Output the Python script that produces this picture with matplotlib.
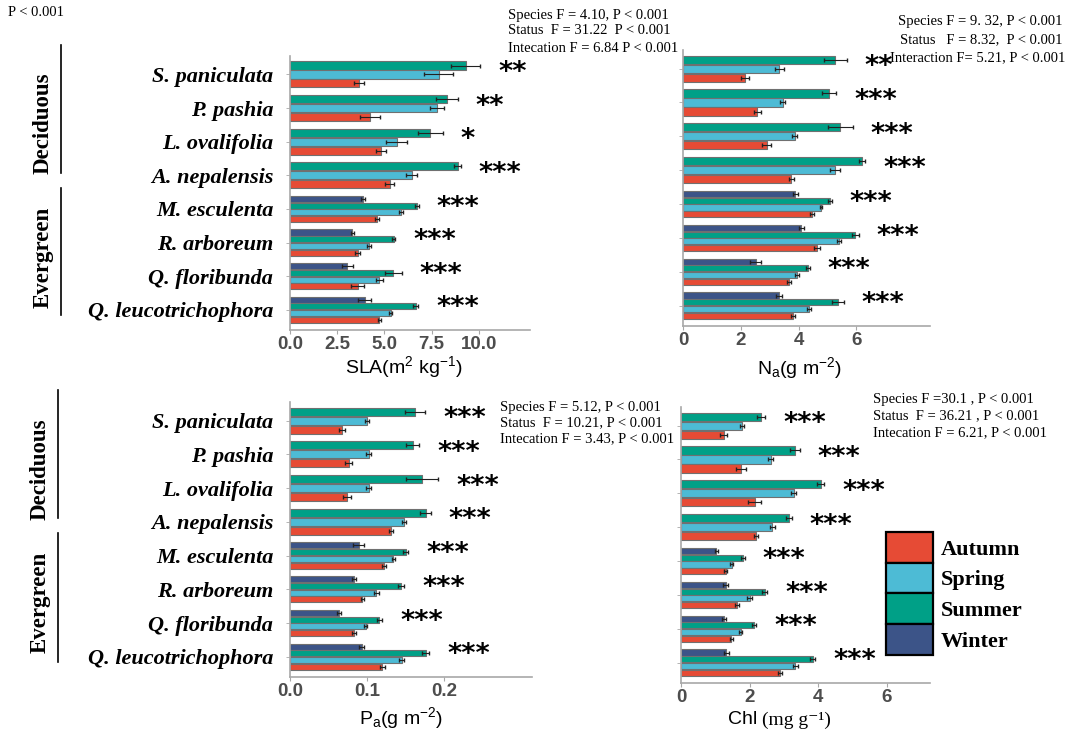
import numpy as np
import matplotlib
matplotlib.use('Agg')
import matplotlib.pyplot as plt
from matplotlib.patches import Patch
from matplotlib.lines import Line2D

plt.rcParams['font.family'] = ['Liberation Sans', 'DejaVu Sans']
plt.rcParams['mathtext.fontset'] = 'custom'
plt.rcParams['mathtext.rm'] = 'Liberation Sans'
plt.rcParams['mathtext.it'] = 'Liberation Sans:italic'

nan = np.nan

species = ['S. paniculata', 'P. pashia', 'L. ovalifolia', 'A. nepalensis',
           'M. esculenta', 'R. arboreum', 'Q. floribunda', 'Q. leucotrichophora']
seasons = ['Autumn', 'Spring', 'Summer', 'Winter']
colors = {'Autumn': '#E64B35', 'Spring': '#4DBBD5', 'Summer': '#00A087', 'Winter': '#3C5488'}

# SLA (m2 kg-1)
sla_autumn = [3.65, 4.23, 4.81, 5.27, 4.62, 3.58, 3.58, 4.73]
sla_spring = [7.87, 7.78, 5.64, 6.44, 5.87, 4.18, 4.73, 5.33]
sla_summer = [9.29, 8.29, 7.41, 8.87, 6.70, 5.50, 5.47, 6.65]
sla_winter = [nan, nan, nan, nan, 3.88, 3.30, 3.03, 3.95]
sla_autumn_se = [0.26, 0.55, 0.26, 0.24, 0.11, 0.12, 0.33, 0.08]
sla_spring_se = [0.76, 0.37, 0.56, 0.28, 0.09, 0.09, 0.20, 0.07]
sla_summer_se = [0.77, 0.58, 0.66, 0.17, 0.10, 0.08, 0.44, 0.13]
sla_winter_se = [nan, nan, nan, nan, 0.10, 0.09, 0.29, 0.35]
sla_sig = ['**', '**', '*', '***', '***', '***', '***', '***']

# Na (g m-2)
na_autumn = [2.15, 2.57, 2.90, 3.75, 4.46, 4.64, 3.66, 3.81]
na_spring = [3.34, 3.45, 3.87, 5.27, 4.78, 5.39, 3.94, 4.35]
na_summer = [5.27, 5.05, 5.44, 6.20, 5.09, 5.96, 4.32, 5.36]
na_winter = [nan, nan, nan, nan, 3.89, 4.09, 2.51, 3.32]
na_autumn_se = [0.13, 0.12, 0.16, 0.08, 0.06, 0.09, 0.07, 0.06]
na_spring_se = [0.14, 0.08, 0.09, 0.17, 0.04, 0.07, 0.06, 0.07]
na_summer_se = [0.39, 0.25, 0.43, 0.10, 0.06, 0.12, 0.06, 0.20]
na_winter_se = [nan, nan, nan, nan, 0.08, 0.09, 0.19, 0.11]
na_sig = ['**', '***', '***', '***', '***', '***', '***', '***']

# Pa (g m-2)
pa_autumn = [0.068, 0.076, 0.074, 0.131, 0.122, 0.094, 0.083, 0.120]
pa_spring = [0.100, 0.102, 0.102, 0.148, 0.134, 0.112, 0.098, 0.145]
pa_summer = [0.162, 0.159, 0.171, 0.176, 0.150, 0.144, 0.116, 0.176]
pa_winter = [nan, nan, nan, nan, 0.089, 0.083, 0.064, 0.093]
pa_autumn_se = [0.004, 0.0043, 0.005, 0.002, 0.002, 0.0024, 0.002, 0.003]
pa_spring_se = [0.003, 0.0035, 0.003, 0.0026, 0.002, 0.0035, 0.0024, 0.0035]
pa_summer_se = [0.013, 0.0087, 0.021, 0.0067, 0.0035, 0.004, 0.0037, 0.0045]
pa_winter_se = [nan, nan, nan, nan, 0.0076, 0.003, 0.0024, 0.003]
pa_sig = ['***'] * 8

# Chl (mg g-1)
chl_autumn = [1.25, 1.76, 2.15, 2.19, 1.30, 1.63, 1.47, 2.88]
chl_spring = [1.78, 2.62, 3.29, 2.66, 1.48, 2.00, 1.74, 3.34]
chl_summer = [2.34, 3.32, 4.08, 3.15, 1.81, 2.44, 2.13, 3.84]
chl_winter = [nan, nan, nan, nan, 1.03, 1.30, 1.25, 1.32]
chl_autumn_se = [0.10, 0.15, 0.19, 0.07, 0.03, 0.05, 0.04, 0.06]
chl_spring_se = [0.05, 0.08, 0.08, 0.07, 0.04, 0.06, 0.05, 0.07]
chl_summer_se = [0.11, 0.15, 0.10, 0.08, 0.05, 0.07, 0.06, 0.07]
chl_winter_se = [nan, nan, nan, nan, 0.04, 0.06, 0.05, 0.07]
chl_sig = ['***'] * 8

W, H = 1073, 736
fig = plt.figure(figsize=(W / 100, H / 100), dpi=100)


def box(l, t, r, b):
    return [l / W, 1 - b / H, (r - l) / W, (b - t) / H]


def fxy(x, y):
    return (x / W, 1 - y / H)


def panel(rect, means, ses, sig, xmax, ticks, ticklabels, names):
    ax = fig.add_axes(rect)
    # bars stacked top to bottom inside each species group
    order = ['Winter', 'Summer', 'Spring', 'Autumn']
    for i in range(len(species)):
        present = [s for s in order if not np.isnan(means[s][i])]
        n = len(present)
        pitch = 0.8 / n
        for k, s in enumerate(present):
            y = i - 0.4 + pitch * (k + 0.5)
            ax.barh(y, means[s][i], height=pitch * 0.9, color=colors[s],
                    edgecolor='#707070', linewidth=0.8, zorder=2)
            ax.errorbar(means[s][i], y, xerr=ses[s][i], fmt='none',
                        ecolor='#222222', elinewidth=0.8, capsize=1.2, zorder=3)
        top = max(means[s][i] + ses[s][i] for s in present)
        ax.annotate(sig[i], xy=(top, i), xytext=(13, 1), textcoords='offset points',
                    ha='left', va='center', fontsize=19.5, fontweight='bold',
                    family='DejaVu Sans')
    ax.set_xlim(0, xmax)
    ax.set_ylim(7.6, -0.55)
    ax.set_xticks(ticks)
    ax.set_xticklabels(ticklabels)
    ax.set_yticks(range(len(species)))
    if names:
        ax.set_yticklabels(species, fontsize=16, fontweight='bold', style='italic',
                           family='Liberation Serif')
    else:
        ax.set_yticklabels([])
    for side in ['top', 'right']:
        ax.spines[side].set_visible(False)
    for side in ['left', 'bottom']:
        ax.spines[side].set_color('#a8a8a8')
        ax.spines[side].set_linewidth(1.2)
    ax.tick_params(axis='x', colors='#a8a8a8', labelcolor='#4d4d4d', labelsize=13.5,
                   length=3, width=0.8, pad=1)
    ax.tick_params(axis='y', colors='#a8a8a8', labelcolor='black', length=3,
                   width=0.6, pad=9)
    for lab in ax.get_xticklabels():
        lab.set_fontweight('bold')
    return ax


panel(box(290, 56, 530, 330),
      {'Autumn': sla_autumn, 'Spring': sla_spring, 'Summer': sla_summer, 'Winter': sla_winter},
      {'Autumn': sla_autumn_se, 'Spring': sla_spring_se, 'Summer': sla_summer_se, 'Winter': sla_winter_se},
      sla_sig, 12.7, [0, 2.5, 5, 7.5, 10], ['0.0', '2.5', '5.0', '7.5', '10.0'], True)
panel(box(683, 50, 930, 326),
      {'Autumn': na_autumn, 'Spring': na_spring, 'Summer': na_summer, 'Winter': na_winter},
      {'Autumn': na_autumn_se, 'Spring': na_spring_se, 'Summer': na_summer_se, 'Winter': na_winter_se},
      na_sig, 8.55, [0, 2, 4, 6], ['0', '2', '4', '6'], False)
panel(box(290, 402, 532, 677),
      {'Autumn': pa_autumn, 'Spring': pa_spring, 'Summer': pa_summer, 'Winter': pa_winter},
      {'Autumn': pa_autumn_se, 'Spring': pa_spring_se, 'Summer': pa_summer_se, 'Winter': pa_winter_se},
      pa_sig, 0.314, [0, 0.1, 0.2], ['0.0', '0.1', '0.2'], True)
panel(box(681, 407, 930, 683),
      {'Autumn': chl_autumn, 'Spring': chl_spring, 'Summer': chl_summer, 'Winter': chl_winter},
      {'Autumn': chl_autumn_se, 'Spring': chl_spring_se, 'Summer': chl_summer_se, 'Winter': chl_winter_se},
      chl_sig, 7.27, [0, 2, 4, 6], ['0', '2', '4', '6'], False)

# axis titles
fig.text(*fxy(404, 367), r'SLA(m$^2$ kg$^{-1}$)', ha='center', va='center', fontsize=14)
fig.text(*fxy(799, 368), r'N$_\mathrm{a}$(g m$^{-2}$)', ha='center', va='center', fontsize=14)
fig.text(*fxy(401, 718), r'P$_\mathrm{a}$(g m$^{-2}$)', ha='center', va='center', fontsize=14)
fig.text(*fxy(757, 720), 'Chl', ha='right', va='center', fontsize=14)
fig.text(*fxy(762, 720), '(mg g\u207b\u00b9)', ha='left', va='center', fontsize=14,
         family=['Liberation Serif', 'DejaVu Serif'])

# leaf habit brackets
serif = ['Liberation Serif', 'DejaVu Serif']
for x_line, x_txt, segs in [(61, 43, [(45, 173, 123, 'Deciduous'), (188, 315, 257, 'Evergreen')]),
                            (58, 40, [(390, 518, 469, 'Deciduous'), (533, 662, 602, 'Evergreen')])]:
    for y0, y1, yc, label in segs:
        fig.add_artist(Line2D([x_line / W, x_line / W], [1 - y0 / H, 1 - y1 / H],
                              transform=fig.transFigure, color='black', lw=1.2))
        fig.text(*fxy(x_txt, yc), label, rotation=90, ha='center', va='center',
                 fontsize=16.5, fontweight='bold', family=serif)

# ANOVA summaries
stat_kw = dict(fontsize=10.5, family=serif, va='center')
fig.text(*fxy(8, 13), 'P < 0.001', ha='left', **stat_kw)
for y, s in zip([15, 31, 48], ['Species F = 4.10, P < 0.001', 'Status  F = 31.22  P < 0.001',
                              'Intecation F = 6.84 P < 0.001']):
    fig.text(*fxy(508, y), s, ha='left', **stat_kw)
for y, x, s in zip([22, 40, 58], [1062, 1062, 1065],
                   ['Species F = 9. 32, P < 0.001', 'Status   F = 8.32,  P < 0.001',
                    'Interaction F= 5.21, P < 0.001']):
    fig.text(*fxy(x, y), s, ha='right', **stat_kw)
for y, s in zip([407, 423, 439], ['Species F = 5.12, P < 0.001', 'Status  F = 10.21, P < 0.001',
                                 'Intecation F = 3.43, P < 0.001']):
    fig.text(*fxy(500, y), s, ha='left', **stat_kw)
for y, s in zip([399, 416, 433], ['Species F =30.1 , P < 0.001', 'Status  F = 36.21 , P < 0.001',
                                 'Intecation F = 6.21, P < 0.001']):
    fig.text(*fxy(873, y), s, ha='left', **stat_kw)

handles = [Patch(facecolor=colors[s], edgecolor='black', linewidth=1.6) for s in seasons]
fig.legend(handles, seasons, loc='upper left', bbox_to_anchor=fxy(886, 532), frameon=False,
           prop={'family': serif, 'weight': 'bold', 'size': 16},
           handlelength=2.1, handleheight=1.75, labelspacing=0.0, handletextpad=0.35,
           borderpad=0, borderaxespad=0)

fig.savefig('out.png', dpi=100)
